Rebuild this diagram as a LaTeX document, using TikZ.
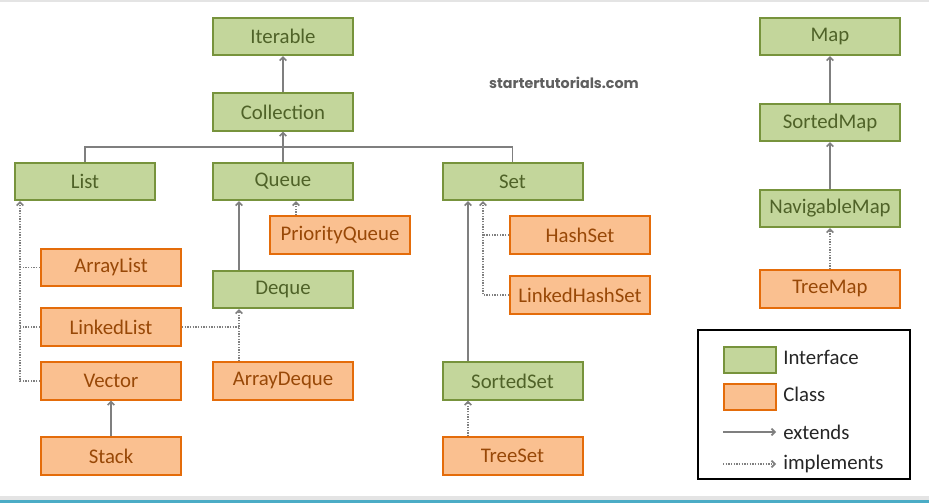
\documentclass[tikz,border=0pt]{standalone}
\usepackage{fontspec}
\setmainfont{Carlito}
\newfontfamily\wmfont{Poppins}
\usetikzlibrary{arrows.meta,calc}
\definecolor{gfill}{HTML}{C3D69B}
\definecolor{gdraw}{HTML}{77933C}
\definecolor{gtext}{HTML}{4F6228}
\definecolor{ofill}{HTML}{FAC090}
\definecolor{odraw}{HTML}{E46C0A}
\definecolor{otext}{HTML}{984807}
\definecolor{lcol}{HTML}{7F7F7F}
\definecolor{legtext}{HTML}{262626}
\definecolor{wmcol}{HTML}{5F5F5F}
\definecolor{bandgray}{HTML}{E4E4E4}
\definecolor{bandcyan}{HTML}{4BACC6}
\begin{document}
\begin{tikzpicture}[x=0.75pt,y=-0.75pt,
  box/.style={minimum width=105pt,minimum height=28pt,inner sep=0pt,line width=1.5pt,font=\fontsize{15.6}{18}\selectfont},
  iface/.style={box,fill=gfill,draw=gdraw,text=gtext},
  cls/.style={box,fill=ofill,draw=odraw,text=otext},
  ext/.style={draw=lcol,line width=1.2pt,-{Straight Barb[length=2.5pt,width=5pt]}},
  impl/.style={ext,dash pattern=on 1pt off 1pt},
  conn/.style={draw=lcol,line width=1.2pt},
  dotconn/.style={conn,dash pattern=on 1pt off 1pt},
  legtxt/.style={anchor=west,inner sep=0pt,text=legtext,font=\fontsize{15.6}{18}\selectfont}]
\useasboundingbox (0,0) rectangle (929,503);
\fill[white] (0,0) rectangle (929,503);
\fill[bandgray] (0,0) rectangle (929,2);
\fill[bandgray] (0,496) rectangle (929,500);
\fill[bandcyan] (0,500) rectangle (929,503);

% interfaces
\node[iface] (iter) at (283,36.5) {Iterable};
\node[iface] (coll) at (283,112) {Collection};
\node[iface] (list) at (85,181.5) {List};
\node[iface] (queue) at (283,181.5) {Queue};
\node[iface] (set) at (512.5,181.5) {Set};
\node[iface] (deque) at (283,289.5) {Deque};
\node[iface] (sset) at (512.5,381) {SortedSet};
\node[iface] (map) at (830,36.5) {Map};
\node[iface] (smap) at (830,122.5) {SortedMap};
\node[iface] (nmap) at (830,208.5) {NavigableMap};

% classes
\node[cls] (pq) at (340,235) {PriorityQueue};
\node[cls] (alist) at (111,267.5) {ArrayList};
\node[cls] (llist) at (111,327) {LinkedList};
\node[cls] (vector) at (111,381) {Vector};
\node[cls] (stack) at (111,456) {Stack};
\node[cls] (adeque) at (283,381) {ArrayDeque};
\node[cls] (hset) at (580,235) {HashSet};
\node[cls] (lhset) at (580,295) {LinkedHashSet};
\node[cls] (tset) at (512.5,456) {TreeSet};
\node[cls] (tmap) at (830,289) {TreeMap};

% watermark
\node[font=\wmfont\bfseries\fontsize{10.7}{12}\selectfont,text=wmcol] (wm) at (564,83) {startertutorials.com};

% collection hierarchy
\draw[ext] (coll) -- (iter);
\coordinate (j) at (283,147);
\draw[conn] (list.north) |- (j);
\draw[conn] (set.north) |- (j);
\draw[ext] (queue) -- (coll);

\draw[impl] ($(pq.north)+(-44,0)$) coordinate (a) -- (a |- queue.south);
\draw[ext] ($(deque.north)+(-44,0)$) coordinate (b) -- (b |- queue.south);
\draw[impl] ($(adeque.north)+(-44,0)$) coordinate (c) -- (c |- deque.south);
\draw[dotconn] (llist.east) -- (llist.east -| c);

\coordinate (lx) at ($(list.south)+(-65,0)$);
\draw[impl] (vector.west) -| (lx);
\draw[dotconn] (alist.west) -- (alist.west -| lx);
\draw[dotconn] (llist.west) -- (llist.west -| lx);
\draw[ext] (stack) -- (vector);

\draw[ext] ($(sset.north)+(-44.5,0)$) coordinate (d) -- (d |- set.south);
\coordinate (e) at ($(set.south)+(-29.5,0)$);
\draw[impl] (lhset.west) -| (e);
\draw[dotconn] (hset.west) -- (hset.west -| e);
\draw[impl] (tset.north -| d) -- (d |- sset.south);

% map hierarchy
\draw[ext] (smap) -- (map);
\draw[ext] (nmap) -- (smap);
\draw[impl] (tmap) -- (nmap);

% legend
\node[draw=black,line width=1.3pt,minimum width=159pt,minimum height=112pt,inner sep=0pt] (legend) at (804,404.5) {};
\node[iface,minimum width=39pt,minimum height=19.5pt] (li) at (750,359.5) {};
\node[cls,minimum width=39pt,minimum height=19.5pt] (lc) at (750,397) {};
\node[legtxt] (lit) at (783,357) {Interface};
\node[legtxt] (lct) at (783,394) {Class};
\coordinate (ea) at (723,432);
\coordinate (eb) at (776,432);
\draw[ext] (ea) -- (eb);
\node[legtxt] (let) at (783,432) {extends};
\coordinate (ia) at (723,464);
\coordinate (ib) at (776,464);
\draw[impl] (ia) -- (ib);
\node[legtxt] (lmt) at (783,464) {implements};
\end{tikzpicture}
\end{document}
